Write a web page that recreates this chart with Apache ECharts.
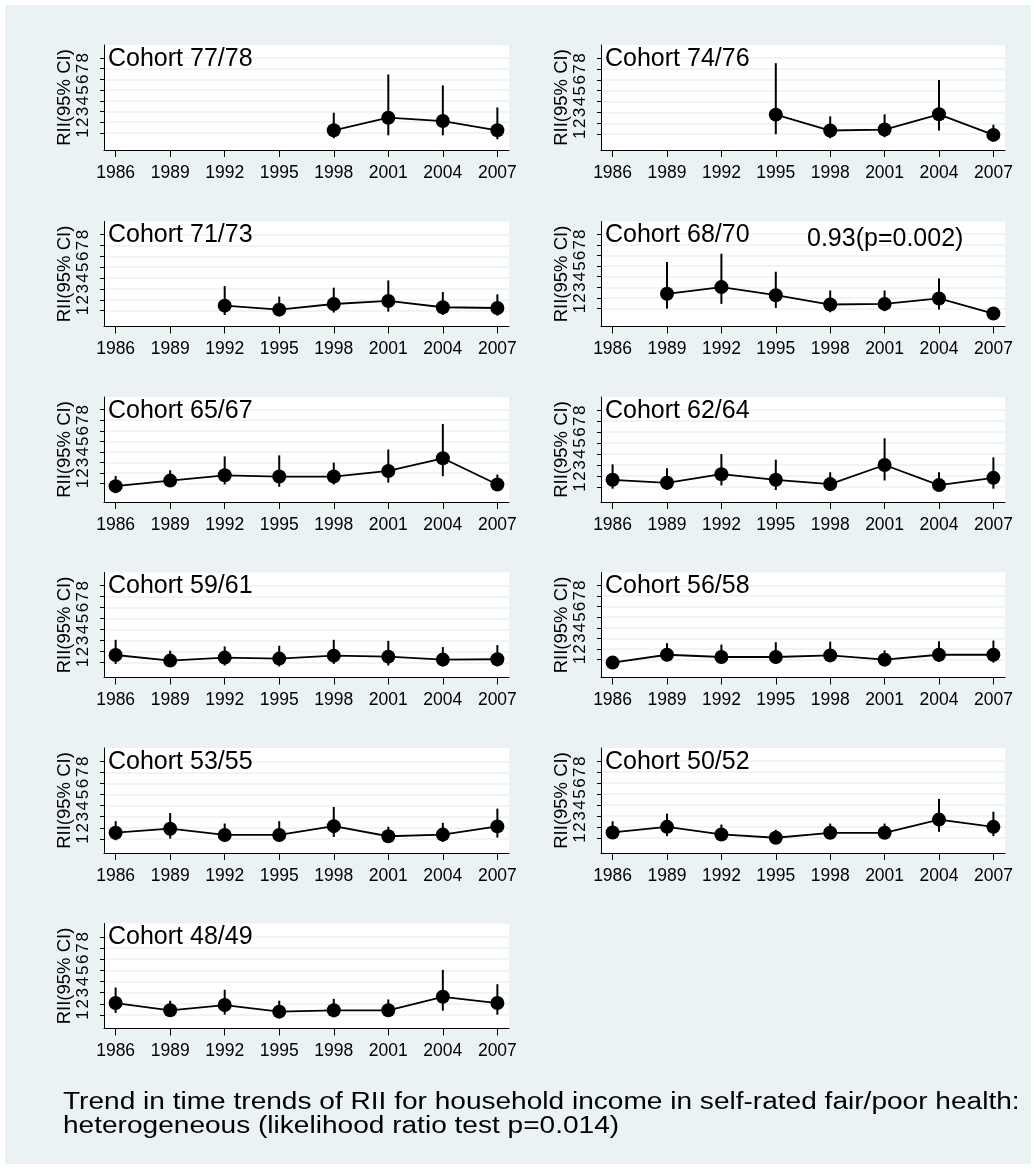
<!DOCTYPE html>
<html>
<head>
<meta charset="utf-8">
<script src="https://cdn.jsdelivr.net/npm/echarts@6/dist/echarts.min.js"></script>
<style>
  html, body { margin: 0; padding: 0; background: #ffffff; }
  #chart { width: 1036px; height: 1169px; }
</style>
</head>
<body>
<div id="chart"></div>
<script>
// Survey years shown on every panel's x axis
const years = [1986, 1989, 1992, 1995, 1998, 2001, 2004, 2007];
// Y tick labels (RII scale)
const yTicks = [1, 2, 3, 4, 5, 6, 7, 8];

// Birth cohorts, in panel order
const cohorts = ['Cohort 77/78', 'Cohort 74/76', 'Cohort 71/73', 'Cohort 68/70',
                 'Cohort 65/67', 'Cohort 62/64', 'Cohort 59/61', 'Cohort 56/58',
                 'Cohort 53/55', 'Cohort 50/52', 'Cohort 48/49'];

// RII estimates and 95% CI bounds per cohort (null = cohort not surveyed that year)
const rii7778 = [null, null, null, null, 1.25, 2.42, 2.11, 1.25];
const lo7778  = [null, null, null, null, 0.50, 0.78, 0.78, 0.41];
const hi7778  = [null, null, null, null, 2.89, 6.45, 5.43, 3.38];

const rii7476 = [null, null, null, 2.80, 1.34, 1.43, 2.83, 0.94];
const lo7476  = [null, null, null, 1.00, 0.63, 0.72, 1.34, 0.55];
const hi7476  = [null, null, null, 7.53, 2.64, 2.83, 5.98, 1.87];

const rii7173 = [null, null, 1.46, 1.09, 1.61, 1.89, 1.31, 1.24];
const lo7173  = [null, null, 0.60, 0.60, 0.82, 0.91, 0.60, 0.54];
const hi7173  = [null, null, 3.26, 2.29, 3.11, 3.78, 2.71, 2.50];

const rii6870 = [null, 2.39, 3.02, 2.26, 1.38, 1.44, 1.95, 0.53];
const lo6870  = [null, 1.00, 1.44, 1.06, 0.65, 0.75, 0.91, 0.31];
const hi6870  = [null, 5.38, 6.17, 4.47, 2.70, 2.70, 3.84, 0.75];

const rii6567 = [0.75, 1.28, 1.78, 1.66, 1.66, 2.19, 3.39, 0.91];
const lo6567  = [0.25, 0.78, 0.91, 0.69, 0.91, 1.09, 1.69, 0.53];
const hi6567  = [1.72, 2.26, 3.57, 3.67, 2.98, 4.23, 6.65, 1.85];

const rii6264 = [1.66, 1.39, 2.17, 1.66, 1.27, 3.01, 1.18, 1.84];
const lo6264  = [0.85, 0.73, 1.15, 0.73, 0.64, 1.60, 0.64, 0.85];
const hi6264  = [3.07, 2.71, 4.00, 3.49, 2.35, 5.44, 2.35, 3.70];

const rii5961 = [1.69, 1.18, 1.45, 1.36, 1.63, 1.54, 1.27, 1.30];
const lo5961  = [0.88, 0.73, 0.73, 0.64, 0.88, 0.73, 0.64, 0.64];
const hi5961  = [3.07, 2.08, 2.47, 2.53, 3.07, 2.98, 2.41, 2.59];

const rii5658 = [0.72, 1.46, 1.25, 1.25, 1.40, 1.00, 1.46, 1.46];
const lo5658  = [0.32, 0.85, 0.72, 0.63, 0.78, 0.57, 0.78, 0.72];
const hi5658  = [1.19, 2.55, 2.42, 2.64, 2.70, 1.87, 2.73, 2.80];

const rii5355 = [1.56, 1.92, 1.36, 1.36, 2.15, 1.24, 1.39, 2.13];
const lo5355  = [0.88, 1.03, 0.79, 0.79, 1.18, 0.79, 0.73, 1.12];
const hi5355  = [2.60, 3.34, 2.39, 2.60, 3.88, 2.10, 2.45, 3.73];

const rii5052 = [1.51, 2.02, 1.33, 1.03, 1.48, 1.48, 2.68, 2.02];
const lo5052  = [0.94, 1.18, 0.82, 0.64, 0.94, 0.94, 1.57, 1.18];
const hi5052  = [2.53, 3.22, 2.23, 1.75, 2.32, 2.32, 4.56, 3.40];

const rii4849 = [2.07, 1.42, 1.89, 1.30, 1.42, 1.42, 2.63, 2.07];
const lo4849  = [1.18, 0.97, 1.03, 0.85, 0.79, 0.85, 1.39, 1.03];
const hi4849  = [3.46, 2.28, 3.26, 2.28, 2.45, 2.39, 5.04, 3.76];

const riiList = [rii7778, rii7476, rii7173, rii6870, rii6567, rii6264, rii5961, rii5658, rii5355, rii5052, rii4849];
const loList  = [lo7778, lo7476, lo7173, lo6870, lo6567, lo6264, lo5961, lo5658, lo5355, lo5052, lo4849];
const hiList  = [hi7778, hi7476, hi7173, hi6870, hi6567, hi6264, hi5961, hi5658, hi5355, hi5052, hi4849];

// Trend estimate printed in the 68/70 panel
const trendNote = '0.93(p=0.002)';
const trendPanel = 3;

const noteLines = [
  'Trend in time trends of RII for household income in self-rated fair/poor health:',
  'heterogeneous (likelihood ratio test p=0.014)'
];

// ---- layout ----
const FONT = '"Liberation Sans", Arial, Helvetica, sans-serif';
const BG = '#eaf2f3';
const colLeft = [104, 601];
const colWidth = [405, 404];
const rowTop = [45, 221.5, 397, 572.5, 748, 923.5];
const plotH = 105;
const xPad = 0.64;
const yMax = 9.2;

const grids = [], xAxes = [], yAxes = [], series = [], graphics = [];

cohorts.forEach((name, i) => {
  const col = i % 2, row = Math.floor(i / 2);
  const left = colLeft[col], top = rowTop[row];
  const rii = riiList[i], lo = loList[i], hi = hiList[i];
  const lows = lo.filter(v => v != null);
  const yMin = Math.min(1, Math.min.apply(null, lows)) - 1.0;

  grids.push({
    left: left, top: top, width: colWidth[col], height: plotH,
    show: true, backgroundColor: '#ffffff', borderWidth: 0
  });

  xAxes.push({
    type: 'value', gridIndex: i,
    min: years[0] - xPad, max: years[years.length - 1] + xPad,
    axisLine: { show: true, onZero: false, lineStyle: { color: '#000', width: 1 } },
    axisTick: { show: true, customValues: years, length: 7, lineStyle: { color: '#000', width: 1 } },
    axisLabel: { customValues: years, formatter: v => String(v),
                 fontSize: 17.5, fontFamily: FONT, color: '#000', margin: 14 },
    splitLine: { show: false }
  });

  yAxes.push({
    type: 'value', gridIndex: i, min: yMin, max: yMax,
    name: 'RII(95% CI)', nameLocation: 'middle', nameGap: 30,
    nameTextStyle: { fontSize: 18.5, fontFamily: FONT, color: '#000' },
    axisLine: { show: true, onZero: false, lineStyle: { color: '#000', width: 1 } },
    axisTick: { show: true, customValues: yTicks, length: 4, lineStyle: { color: '#000', width: 1 } },
    axisLabel: { customValues: yTicks, formatter: v => String(v), rotate: 90,
                 fontSize: 17, fontFamily: FONT, color: '#000', margin: 12 },
    splitLine: { show: true, lineStyle: { color: BG, width: 1.5 } }
  });

  const pts = [], ci = [];
  years.forEach((yr, k) => {
    if (rii[k] != null) pts.push([yr, rii[k]]);
    if (lo[k] != null && hi[k] != null) ci.push([yr, lo[k], hi[k]]);
  });

  // 95% CI spikes
  series.push({
    type: 'custom', xAxisIndex: i, yAxisIndex: i, data: ci, silent: true,
    encode: { x: 0, y: [1, 2] },
    renderItem: function (params, api) {
      const a = api.coord([api.value(0), api.value(1)]);
      const b = api.coord([api.value(0), api.value(2)]);
      return { type: 'line', shape: { x1: a[0], y1: a[1], x2: b[0], y2: b[1] },
               style: { stroke: '#000', lineWidth: 2 } };
    },
    z: 2
  });

  // RII estimates connected over time
  series.push({
    type: 'line', xAxisIndex: i, yAxisIndex: i, data: pts, silent: true,
    symbol: 'circle', symbolSize: 14, showSymbol: true,
    lineStyle: { color: '#000', width: 1.8 },
    itemStyle: { color: '#000' },
    animation: false, z: 3
  });

  graphics.push({
    type: 'text', x: left + 4, y: top + 14, z: 100,
    style: { text: name, fill: '#000', font: '25px ' + FONT,
             textVerticalAlign: 'middle', verticalAlign: 'middle' }
  });

  if (i === trendPanel) {
    graphics.push({
      type: 'text', x: left + 206, y: top + 18, z: 100,
      style: { text: trendNote, fill: '#000', font: '25px ' + FONT,
               textVerticalAlign: 'middle', verticalAlign: 'middle' }
    });
  }
});

graphics.unshift({
  type: 'rect', z: -10, silent: true,
  shape: { x: 5, y: 5, width: 1026, height: 1159 },
  style: { fill: BG }
});

// Caption under the panels, drawn slightly widened
noteLines.forEach((t, k) => {
  graphics.push({
    type: 'text', x: 63, y: 1103 + k * 24, z: 100, scaleX: 1.22, scaleY: 1,
    style: { text: t, fill: '#000', font: '23px ' + FONT,
             textVerticalAlign: 'middle', verticalAlign: 'middle' }
  });
});

const chart = echarts.init(document.getElementById('chart'), null, { renderer: 'canvas' });
chart.setOption({
  backgroundColor: '#ffffff',
  animation: false,
  grid: grids,
  xAxis: xAxes,
  yAxis: yAxes,
  series: series,
  graphic: graphics
});
</script>
</body>
</html>
